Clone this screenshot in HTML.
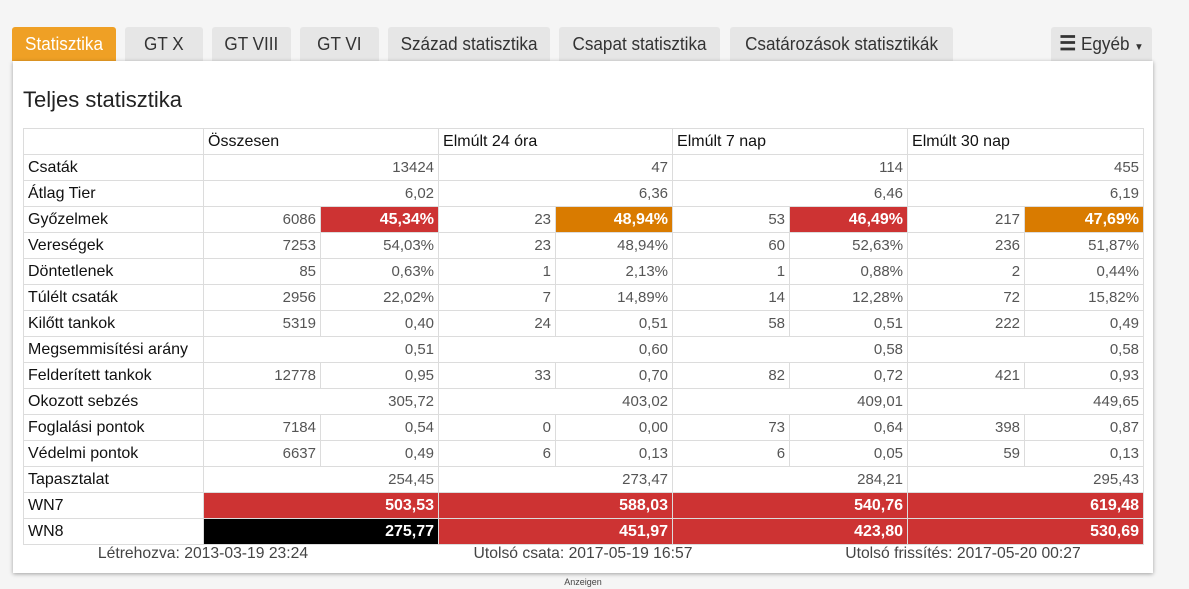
<!DOCTYPE html>
<html>
<head>
<meta charset="utf-8">
<style>
html,body{margin:0;padding:0;}
body{width:1189px;height:589px;background:#f5f5f5;position:relative;overflow:hidden;font-family:"Liberation Sans",sans-serif;}
.tab{position:absolute;top:27px;height:34px;background:#e6e6e6;color:#333;font-family:"Liberation Sans",sans-serif;font-size:18px;line-height:34px;text-align:center;border-radius:3px 3px 0 0;}
.tab span.t{display:inline-block;transform:scaleX(0.95);}
.tab.act{background:#efa025;color:#fff;}
.panel{position:absolute;left:13px;top:61px;width:1140px;height:512px;background:#fff;box-shadow:0 1px 4px rgba(0,0,0,0.35);}
.title{position:absolute;left:23px;top:86px;font-size:22px;color:#222;line-height:28px;}
table{position:absolute;left:23px;top:128px;border-collapse:collapse;table-layout:fixed;width:1120px;font-size:15px;}
td{border:1px solid #dcdcdc;height:25px;padding:0 4px;line-height:25px;white-space:nowrap;overflow:hidden;color:#555;text-align:right;box-sizing:border-box;}
td.l{text-align:left;color:#111;font-size:16px;}
tr.h td{text-align:left;color:#111;font-size:16px;}
td.r{background:#cd3333;color:#fff;font-weight:bold;font-size:16px;}
td.o{background:#d97b00;color:#fff;font-weight:bold;font-size:16px;}
td.b{background:#000;color:#fff;font-weight:bold;font-size:16px;}
.foot{position:absolute;top:544px;font-size:15.7px;color:#444;width:380px;text-align:center;line-height:20px;}
.anz{position:absolute;left:553px;top:577px;width:60px;text-align:center;font-size:9px;color:#444;}
</style>
</head>
<body>
<div class="tab act" style="left:12px;width:104px;"><span class="t">Statisztika</span></div>
<div class="tab" style="left:125px;width:78px;"><span class="t">GT X</span></div>
<div class="tab" style="left:212px;width:79px;"><span class="t">GT VIII</span></div>
<div class="tab" style="left:300px;width:79px;"><span class="t">GT VI</span></div>
<div class="tab" style="left:388px;width:162px;"><span class="t">Század statisztika</span></div>
<div class="tab" style="left:559px;width:161px;"><span class="t">Csapat statisztika</span></div>
<div class="tab" style="left:730px;width:223px;"><span class="t">Csatározások statisztikák</span></div>
<div class="tab" style="left:1051px;width:101px;"><span class="t"><b style="font-size:20px;">&#9776;</b> Egyéb <span style="font-size:10px;">&#9660;</span></span></div>
<div class="panel"></div>
<div class="title">Teljes statisztika</div>
<table>
<colgroup>
<col style="width:180px"><col style="width:117px"><col style="width:118px"><col style="width:117px"><col style="width:117px"><col style="width:117px"><col style="width:118px"><col style="width:117px"><col style="width:119px">
</colgroup>
<tr class="h"><td></td><td colspan="2">Összesen</td><td colspan="2">Elmúlt 24 óra</td><td colspan="2">Elmúlt 7 nap</td><td colspan="2">Elmúlt 30 nap</td></tr>
<tr><td class="l">Csaták</td><td colspan="2">13424</td><td colspan="2">47</td><td colspan="2">114</td><td colspan="2">455</td></tr>
<tr><td class="l">Átlag Tier</td><td colspan="2">6,02</td><td colspan="2">6,36</td><td colspan="2">6,46</td><td colspan="2">6,19</td></tr>
<tr><td class="l">Győzelmek</td><td>6086</td><td class="r">45,34%</td><td>23</td><td class="o">48,94%</td><td>53</td><td class="r">46,49%</td><td>217</td><td class="o">47,69%</td></tr>
<tr><td class="l">Vereségek</td><td>7253</td><td>54,03%</td><td>23</td><td>48,94%</td><td>60</td><td>52,63%</td><td>236</td><td>51,87%</td></tr>
<tr><td class="l">Döntetlenek</td><td>85</td><td>0,63%</td><td>1</td><td>2,13%</td><td>1</td><td>0,88%</td><td>2</td><td>0,44%</td></tr>
<tr><td class="l">Túlélt csaták</td><td>2956</td><td>22,02%</td><td>7</td><td>14,89%</td><td>14</td><td>12,28%</td><td>72</td><td>15,82%</td></tr>
<tr><td class="l">Kilőtt tankok</td><td>5319</td><td>0,40</td><td>24</td><td>0,51</td><td>58</td><td>0,51</td><td>222</td><td>0,49</td></tr>
<tr><td class="l">Megsemmisítési arány</td><td colspan="2">0,51</td><td colspan="2">0,60</td><td colspan="2">0,58</td><td colspan="2">0,58</td></tr>
<tr><td class="l">Felderített tankok</td><td>12778</td><td>0,95</td><td>33</td><td>0,70</td><td>82</td><td>0,72</td><td>421</td><td>0,93</td></tr>
<tr><td class="l">Okozott sebzés</td><td colspan="2">305,72</td><td colspan="2">403,02</td><td colspan="2">409,01</td><td colspan="2">449,65</td></tr>
<tr><td class="l">Foglalási pontok</td><td>7184</td><td>0,54</td><td>0</td><td>0,00</td><td>73</td><td>0,64</td><td>398</td><td>0,87</td></tr>
<tr><td class="l">Védelmi pontok</td><td>6637</td><td>0,49</td><td>6</td><td>0,13</td><td>6</td><td>0,05</td><td>59</td><td>0,13</td></tr>
<tr><td class="l">Tapasztalat</td><td colspan="2">254,45</td><td colspan="2">273,47</td><td colspan="2">284,21</td><td colspan="2">295,43</td></tr>
<tr><td class="l">WN7</td><td colspan="2" class="r">503,53</td><td colspan="2" class="r">588,03</td><td colspan="2" class="r">540,76</td><td colspan="2" class="r">619,48</td></tr>
<tr><td class="l">WN8</td><td colspan="2" class="b">275,77</td><td colspan="2" class="r">451,97</td><td colspan="2" class="r">423,80</td><td colspan="2" class="r">530,69</td></tr>
</table>
<div class="foot" style="left:13px;">Létrehozva: 2013-03-19 23:24</div>
<div class="foot" style="left:393px;">Utolsó csata: 2017-05-19 16:57</div>
<div class="foot" style="left:773px;">Utolsó frissítés: 2017-05-20 00:27</div>
<div class="anz">Anzeigen</div>
</body>
</html>
